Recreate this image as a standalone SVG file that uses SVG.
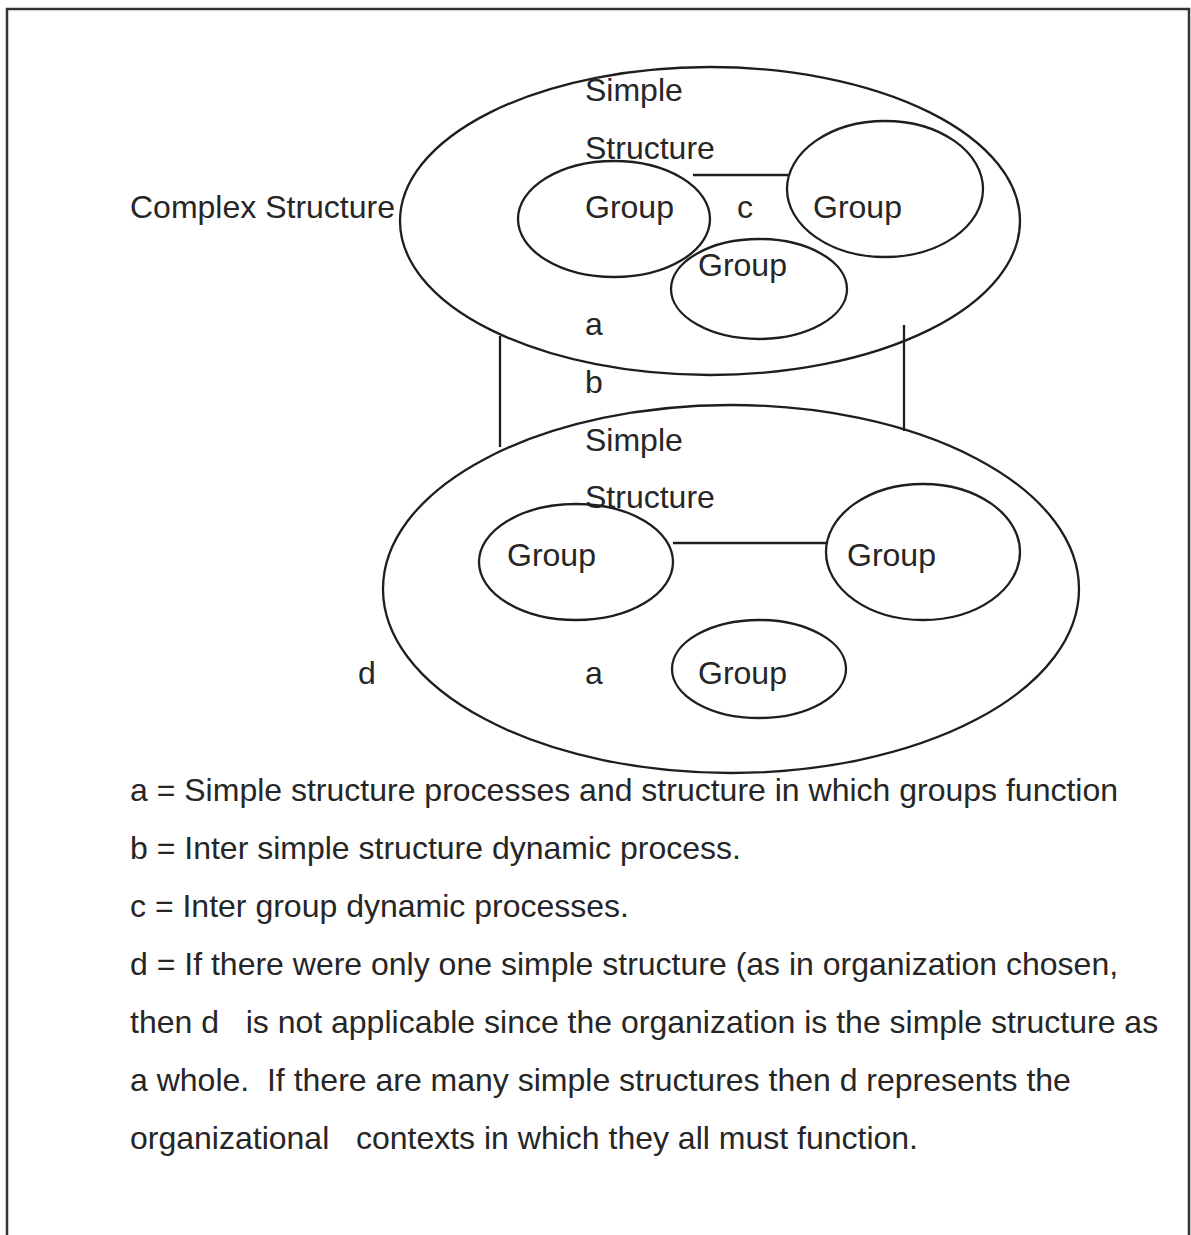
<svg xmlns="http://www.w3.org/2000/svg" width="1191" height="1235" viewBox="0 0 1191 1235">
  <style>
    .shape { fill: none; stroke: #1e1e1e; stroke-width: 2.3; }
    .wire { fill: none; stroke: #1e1e1e; stroke-width: 2.3; }
    .frame { fill: none; stroke: #333; stroke-width: 2.5; }
    text { font-family: "Liberation Sans", Arial, sans-serif; font-size: 32px; fill: #262626; }
  </style>
  <rect width="1191" height="1235" fill="#fff"/>

  <!-- page frame (open at the bottom) -->
  <path class="frame" d="M7,1235 V9 H1189 V1235"/>

  <!-- upper simple structure -->
  <g id="upper-structure">
    <ellipse class="shape" cx="710" cy="221" rx="310" ry="154"/>
    <text x="585" y="101">Simple</text>
    <text x="585" y="159">Structure</text>
    <text x="585" y="335">a</text>
  </g>
  <g id="upper-group-left">
    <ellipse class="shape" cx="614" cy="219" rx="96" ry="58"/>
    <text x="585" y="218">Group</text>
  </g>
  <g id="upper-group-right">
    <ellipse class="shape" cx="885" cy="189" rx="98" ry="68"/>
    <text x="813" y="218">Group</text>
  </g>
  <g id="upper-group-mid">
    <ellipse class="shape" cx="759" cy="289" rx="88" ry="50"/>
    <text x="698" y="276">Group</text>
  </g>

  <!-- lower simple structure -->
  <g id="lower-structure">
    <ellipse class="shape" cx="731" cy="589" rx="348" ry="184"/>
    <text x="585" y="451">Simple</text>
    <text x="585" y="508">Structure</text>
    <text x="585" y="684">a</text>
  </g>
  <g id="lower-group-left">
    <ellipse class="shape" cx="576" cy="562" rx="97" ry="58"/>
    <text x="507" y="566">Group</text>
  </g>
  <g id="lower-group-right">
    <ellipse class="shape" cx="923" cy="552" rx="97" ry="68"/>
    <text x="847" y="566">Group</text>
  </g>
  <g id="lower-group-bottom">
    <ellipse class="shape" cx="759" cy="669" rx="87" ry="49"/>
    <text x="698" y="684">Group</text>
  </g>

  <!-- connectors between groups and between the two structures -->
  <g id="connectors">
    <line class="wire" x1="693" y1="175" x2="788" y2="175"/>
    <line class="wire" x1="673" y1="543" x2="826" y2="543"/>
    <line class="wire" x1="500" y1="336" x2="500" y2="447"/>
    <line class="wire" x1="904" y1="325" x2="904" y2="431"/>
  </g>

  <!-- free labels -->
  <g id="labels">
    <text x="130" y="218">Complex Structure</text>
    <text x="737" y="218">c</text>
    <text x="585" y="393">b</text>
    <text x="358" y="684">d</text>
  </g>

  <!-- key -->
  <g id="legend">
    <text x="130" y="801">a = Simple structure processes and structure in which groups function</text>
    <text x="130" y="859">b = Inter simple structure dynamic process.</text>
    <text x="130" y="917">c = Inter group dynamic processes.</text>
    <text x="130" y="975">d = If there were only one simple structure (as in organization chosen,</text>
    <text x="130" y="1033" xml:space="preserve">then d   is not applicable since the organization is the simple structure as</text>
    <text x="130" y="1091" xml:space="preserve">a whole.  If there are many simple structures then d represents the</text>
    <text x="130" y="1149" xml:space="preserve">organizational   contexts in which they all must function.</text>
  </g>
</svg>
